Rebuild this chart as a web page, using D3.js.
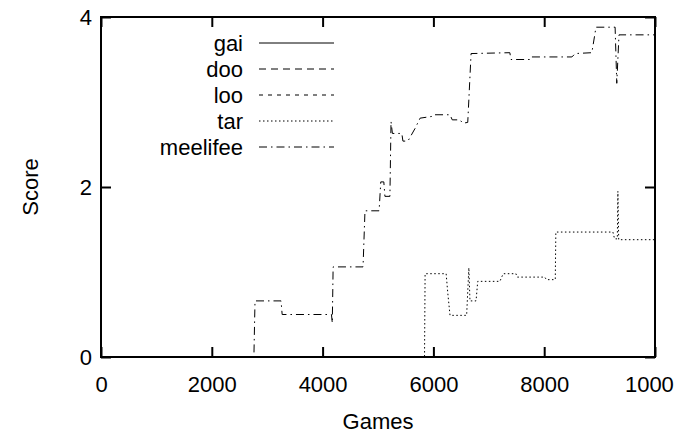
<!DOCTYPE html>
<html>
<head>
<meta charset="utf-8">
<script src="https://cdn.jsdelivr.net/npm/d3@7"></script>
<style>
  body { margin: 0; background: #fff; }
  svg { display: block; font-family: 'Liberation Sans', Arial, sans-serif; }
</style>
</head>
<body>
<svg width="674" height="440"></svg>
<script>
// series as [games, score] pairs
var gai = [[0, 0], [10000, 0]]
var doo = [[0, 0], [10000, 0]]
var loo = [[0, 0], [10000, 0]]
var tar = [[0, 0], [5840, 0], [5850, 0.98], [6230, 0.98], [6260, 0.75], [6300, 0.49], [6600, 0.49],
    [6640, 1.05], [6660, 0.66], [6770, 0.66], [6800, 0.89], [7200, 0.89], [7260, 0.98], [7490, 0.98],
    [7510, 0.94], [8010, 0.94], [8040, 0.91], [8200, 0.91], [8210, 1.47], [9240, 1.47], [9270, 1.39],
    [9320, 1.39], [9330, 1.95], [9345, 1.38], [10000, 1.38]]
var meelifee = [[0, 0], [2760, 0], [2780, 0.66], [3250, 0.66], [3270, 0.50], [4160, 0.50], [4175, 0.40],
    [4190, 1.06], [4730, 1.06], [4765, 1.72], [5020, 1.72], [5050, 2.06], [5105, 2.06], [5125, 1.89],
    [5215, 1.89], [5235, 2.77], [5260, 2.63], [5430, 2.63], [5450, 2.54], [5540, 2.54], [5670, 2.69],
    [5760, 2.81], [5970, 2.83], [6000, 2.85], [6300, 2.85], [6340, 2.79], [6480, 2.79], [6530, 2.75],
    [6620, 2.76], [6680, 3.57], [7380, 3.58], [7400, 3.50], [7740, 3.50], [7760, 3.53], [8500, 3.53],
    [8560, 3.57], [8860, 3.58], [8935, 3.88], [9280, 3.88], [9310, 3.22], [9350, 3.79], [10000, 3.79]]

var names = ['gai', 'doo', 'loo', 'tar', 'meelifee']
var xTicks = [0, 2000, 4000, 6000, 8000, 10000]
var yTicks = [0, 2, 4]

var series = [gai, doo, loo, tar, meelifee]
var dashes = ['none', '7,5', '4,5', '1.5,2.5', '8,4,1.5,4']

var pLeft = 101, pRight = 655, pTop = 17, pBottom = 357

var svg = d3.select('svg')

var x = d3.scaleLinear().domain([0, 10000]).range([pLeft, pRight])
var y = d3.scaleLinear().domain([0, 4]).range([pBottom, pTop])

svg.append('clipPath').attr('id', 'plot')
    .append('rect')
    .attr('x', pLeft).attr('y', pTop)
    .attr('width', pRight - pLeft).attr('height', pBottom - pTop)

var line = d3.line()
    .x((d) => { return x(d[0]) })
    .y((d) => { return y(d[1]) })

svg.append('g')
    .attr('clip-path', 'url(#plot)')
    .selectAll('path')
    .data(series)
    .enter()
    .append('path')
    .attr('d', line)
    .attr('fill', 'none')
    .attr('stroke', '#000')
    .attr('stroke-width', 1)
    .attr('stroke-dasharray', (d, i) => { return dashes[i] })

// legend
var legend = svg.append('g')
names.forEach((n, i) => {
    var ly = 43 + i * 26
    legend.append('text')
        .attr('x', 243).attr('y', ly)
        .attr('dy', '0.35em')
        .attr('text-anchor', 'end')
        .attr('font-size', 22)
        .text(n)
    legend.append('line')
        .attr('x1', 259).attr('x2', 334)
        .attr('y1', ly).attr('y2', ly)
        .attr('stroke', '#000')
        .attr('stroke-width', 1)
        .attr('stroke-dasharray', dashes[i])
})

// axes, gnuplot style: ticks pointing inward, mirrored
var fmt = d3.format('d')
var xAxis = d3.axisBottom(x).tickValues(xTicks).tickFormat(fmt).tickSizeInner(-10).tickSizeOuter(0).tickPadding(19)
var yAxis = d3.axisLeft(y).tickValues(yTicks).tickFormat(fmt).tickSizeInner(-10).tickSizeOuter(0).tickPadding(9)

svg.append('g')
    .attr('transform', 'translate(0,' + pBottom + ')')
    .call(xAxis)
svg.append('g')
    .attr('transform', 'translate(' + pLeft + ',0)')
    .call(yAxis)
svg.append('g')
    .attr('transform', 'translate(0,' + pTop + ')')
    .call(d3.axisTop(x).tickValues(xTicks).tickSizeInner(-10).tickSizeOuter(0).tickFormat(''))
svg.append('g')
    .attr('transform', 'translate(' + pRight + ',0)')
    .call(d3.axisRight(y).tickValues(yTicks).tickSizeInner(-10).tickSizeOuter(0).tickFormat(''))

svg.selectAll('.domain').remove()
svg.selectAll('.tick line').attr('stroke', '#000').attr('stroke-width', 2)
svg.selectAll('.tick text')
    .attr('font-size', 22)
    .attr('font-family', "'Liberation Sans', Arial, sans-serif")
    .attr('fill', '#000')

svg.append('rect')
    .attr('x', pLeft).attr('y', pTop)
    .attr('width', pRight - pLeft).attr('height', pBottom - pTop)
    .attr('fill', 'none')
    .attr('stroke', '#000')
    .attr('stroke-width', 2)

svg.append('text')
    .attr('x', (pLeft + pRight) / 2).attr('y', 421)
    .attr('dy', '0.35em')
    .attr('text-anchor', 'middle')
    .attr('font-size', 22)
    .text('Games')

svg.append('text')
    .attr('transform', 'translate(30,' + y(2) + ') rotate(-90)')
    .attr('dy', '0.35em')
    .attr('text-anchor', 'middle')
    .attr('font-size', 22)
    .text('Score')
</script>
</body>
</html>
